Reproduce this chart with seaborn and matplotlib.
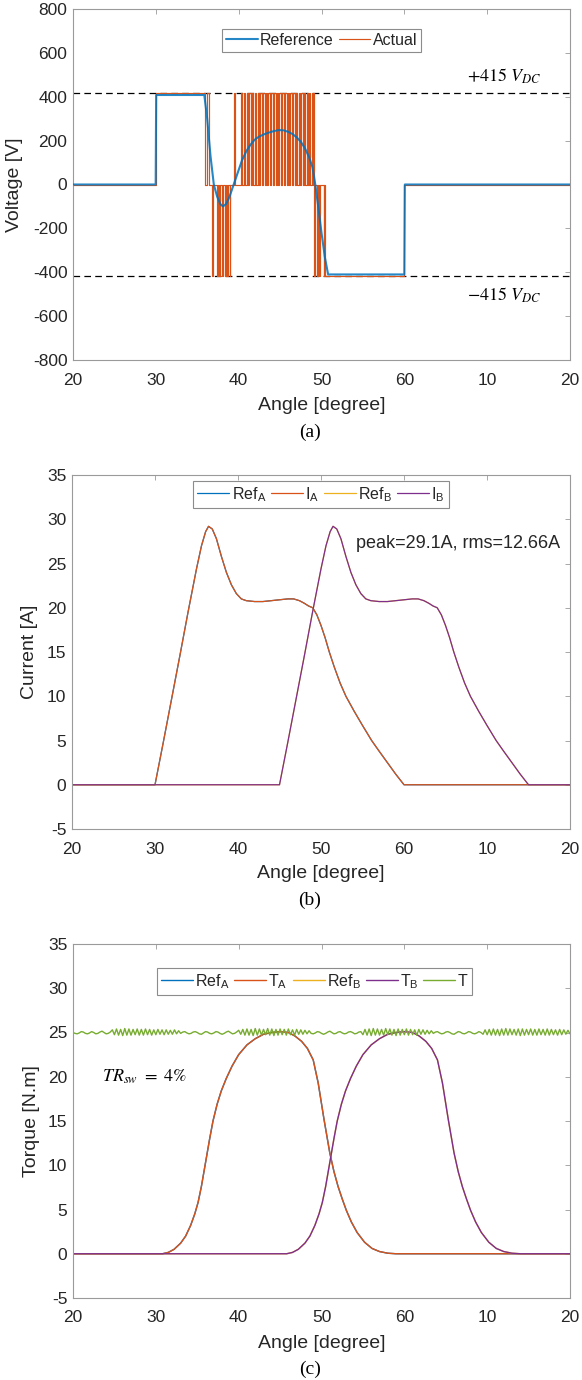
"""
Voltage, current and torque of the two phases against rotor angle.
Three stacked panels, MATLAB-like look.
"""

import numpy as np
import matplotlib
matplotlib.use('Agg')
import matplotlib.pyplot as plt
import seaborn as sns

sns.set_theme(style='white')
plt.rcParams['font.family'] = ['Liberation Sans', 'DejaVu Sans']
plt.rcParams['axes.unicode_minus'] = False

BLUE = '#0072BD'
ORANGE = '#D95319'
YELLOW = '#EDB120'
PURPLE = '#7E2F8E'
GREEN = '#77AC30'
TXT = '#262626'
BOX = '#9a9a9a'

angle_ticks = [20, 30, 40, 50, 60, 70, 80]
angle_tick_labels = ['20', '30', '40', '50', '60', '10', '20']

# ---- (a) voltage ----
vdc = 415
v_ref_angle = [20, 29.98, 30.04, 35.85, 36.2, 36.6, 37.0, 37.4, 37.8, 38.1,
               38.5, 38.9, 39.4, 39.9, 40.4, 40.9, 41.4, 41.9, 42.4, 43.0,
               43.6, 44.2, 44.8, 45.4, 46.0, 46.5, 47.0, 47.5, 48.0, 48.5,
               48.9, 49.25, 49.6, 50.0, 50.4, 50.8, 60.0, 60.06, 80]
v_ref = [0, 0, 408, 408, 300, 130, 0, -55, -90, -100,
         -88, -55, 0, 55, 110, 150, 180, 203, 217, 228,
         236, 243, 248, 247, 240, 230, 215, 195, 165, 125,
         80, 0, -100, -220, -330, -410, -410, 0, 0]

# switching instants of the actual phase voltage (degrees)
pos_on = [30.00, 36.15, 39.45, 40.30, 40.63, 40.96, 41.29, 41.62, 41.95, 42.28,
          42.61, 42.94, 43.27, 43.60, 43.93, 44.26, 44.59, 44.92, 45.25, 45.58,
          45.91, 46.24, 46.57, 46.90, 47.23, 47.56, 47.89, 48.22, 48.55, 48.88,
          49.00]
pos_off = [35.95, 36.45, 39.52, 40.38, 40.74, 41.08, 41.43, 41.77, 42.11, 42.45,
           42.79, 43.12, 43.46, 43.79, 44.12, 44.46, 44.79, 45.12, 45.45, 45.78,
           46.10, 46.43, 46.75, 47.08, 47.40, 47.71, 48.03, 48.34, 48.65, 48.95,
           49.06]
neg_on = [36.78, 37.38, 37.66, 37.98, 38.30, 38.62, 38.92, 49.15, 49.45, 49.72, 50.25, 50.45]
neg_off = [36.85, 37.52, 37.80, 38.12, 38.42, 38.72, 39.00, 49.22, 49.52, 49.80, 50.32, 60.00]

# ---- (b) current ----
ia_angle = [20, 30.0, 31.0, 32.0, 33.0, 34.0, 35.0, 35.6, 36.1, 36.45,
            36.9, 37.4, 38.0, 38.6, 39.2, 39.8, 40.4, 41.0, 42.0, 43.0,
            44.0, 45.0, 46.0, 46.7, 47.4, 48.0, 48.5, 49.0, 49.5, 50.0,
            50.5, 51.0, 51.6, 52.3, 53.0, 54.0, 55.0, 56.1, 57.0, 58.0,
            59.0, 60.0, 80]
ia = [0, 0, 4.8, 9.7, 14.6, 19.6, 24.4, 27.0, 28.6, 29.2,
      28.9, 27.8, 25.8, 24.0, 22.6, 21.6, 21.0, 20.8, 20.7, 20.7,
      20.8, 20.9, 21.0, 21.0, 20.8, 20.5, 20.2, 20.0, 19.2, 18.0,
      16.6, 15.0, 13.3, 11.5, 10.0, 8.3, 6.7, 5.0, 3.8, 2.5,
      1.2, 0, 0]
ib_angle = [20, 45.0, 46.0, 47.0, 48.0, 49.0, 50.0, 50.6, 51.1, 51.45,
            51.9, 52.4, 53.0, 53.6, 54.2, 54.8, 55.4, 56.0, 57.0, 58.0,
            59.0, 60.0, 61.0, 61.7, 62.4, 63.0, 63.5, 64.0, 64.5, 65.0,
            65.5, 66.0, 66.6, 67.3, 68.0, 69.0, 70.0, 71.1, 72.0, 73.0,
            74.0, 75.0, 80]
ib = [0, 0, 4.8, 9.7, 14.6, 19.6, 24.4, 27.0, 28.6, 29.2,
      28.9, 27.8, 25.8, 24.0, 22.6, 21.6, 21.0, 20.8, 20.7, 20.7,
      20.8, 20.9, 21.0, 21.0, 20.8, 20.5, 20.2, 20.0, 19.2, 18.0,
      16.6, 15.0, 13.3, 11.5, 10.0, 8.3, 6.7, 5.0, 3.8, 2.5,
      1.2, 0, 0]

# ---- (c) torque ----
ta_angle = [20, 30.8, 31.5, 32.2, 33.0, 33.6, 34.2, 34.7, 35.1, 35.5,
            36.0, 36.5, 36.9, 37.4, 37.9, 38.5, 39.2, 40.0, 41.0, 42.0,
            43.0, 44.0, 45.0, 46.0, 46.8, 47.6, 48.3, 49.0, 49.6, 50.3,
            51.0, 51.5, 52.0, 52.5, 53.0, 53.6, 54.3, 55.2, 56.1, 57.0,
            58.0, 59.0, 80]
ta = [0, 0, 0.15, 0.5, 1.2, 2.0, 3.2, 4.5, 5.8, 7.6,
      10.3, 13.0, 15.0, 16.9, 18.4, 19.8, 21.2, 22.5, 23.6, 24.3,
      24.8, 25.0, 25.1, 25.0, 24.6, 24.0, 23.2, 21.9, 19.3, 15.2,
      11.4, 9.3, 7.6, 6.2, 4.9, 3.6, 2.4, 1.3, 0.6, 0.25,
      0.06, 0, 0]
tb_angle = [20, 45.8, 46.5, 47.2, 48.0, 48.6, 49.2, 49.7, 50.1, 50.5,
            51.0, 51.5, 51.9, 52.4, 52.9, 53.5, 54.2, 55.0, 56.0, 57.0,
            58.0, 59.0, 60.0, 61.0, 61.8, 62.6, 63.3, 64.0, 64.6, 65.3,
            66.0, 66.5, 67.0, 67.5, 68.0, 68.6, 69.3, 70.2, 71.1, 72.0,
            73.0, 74.0, 80]
tb = [0, 0, 0.15, 0.5, 1.2, 2.0, 3.2, 4.5, 5.8, 7.6,
      10.3, 13.0, 15.0, 16.9, 18.4, 19.8, 21.2, 22.5, 23.6, 24.3,
      24.8, 25.0, 25.1, 25.0, 24.6, 24.0, 23.2, 21.9, 19.3, 15.2,
      11.4, 9.3, 7.6, 6.2, 4.9, 3.6, 2.4, 1.3, 0.6, 0.25,
      0.06, 0, 0]

# total torque, sampled every 0.25 deg from 20 to 80
t_total = (
    [25.0, 24.9, 24.85, 24.95, 25.1, 25.05, 24.9, 24.85, 24.95, 25.1,
     25.0, 24.85, 24.9, 25.05, 25.15, 25.0, 24.85, 24.9, 25.05]
    + [25.3, 24.75, 25.4, 24.7, 25.35, 24.65, 25.45, 24.7, 25.4, 24.7,
       25.35, 24.75, 25.4, 24.7, 25.35, 24.7, 25.4, 24.75, 25.35, 24.7,
       25.3, 24.75, 25.35, 24.8, 25.3, 24.75, 25.3, 24.8, 25.25, 24.8,
       25.3, 24.85, 25.2, 24.9]
    + [25.05, 25.1, 24.95, 24.85, 24.9, 25.05, 25.1, 25.0, 24.85, 24.8,
       24.95, 25.1, 25.05, 24.9, 24.85, 24.95, 25.1, 25.05, 24.9, 24.8,
       24.9, 25.05, 25.15, 25.0, 24.85, 24.9, 25.05]
    + [25.25, 24.8, 25.35, 24.7, 25.4, 24.7, 25.35, 24.65, 25.45, 24.7,
       25.4, 24.7, 25.35, 24.75, 25.45, 24.7, 25.4, 24.65, 25.35, 24.7,
       25.4, 24.75, 25.35, 24.7, 25.4, 24.75, 25.3, 24.7, 25.35, 24.8,
       25.3, 24.8, 25.25, 24.85, 25.2]
    + [24.9, 24.85, 24.95, 25.1, 25.05, 24.9, 24.8, 24.9, 25.05, 25.15,
       25.0, 24.85, 24.9, 25.05, 25.1, 24.95, 24.85, 24.9, 25.05, 25.1,
       25.0, 24.85, 24.9, 25.05, 25.1]
    + [24.75, 25.35, 24.7, 25.4, 24.65, 25.45, 24.7, 25.4, 24.7, 25.35,
       24.7, 25.45, 24.75, 25.4, 24.7, 25.35, 24.65, 25.4, 24.7, 25.35,
       24.75, 25.4, 24.7, 25.35, 24.75, 25.3, 24.7, 25.35, 24.8, 25.3,
       24.8, 25.25, 24.85, 25.2, 24.9]
    + [25.05, 25.1, 24.95, 24.85, 24.9, 25.05, 25.1, 25.0, 24.85, 24.8,
       24.95, 25.1, 25.05, 24.9, 24.85, 24.95, 25.1, 25.05, 24.9, 24.85,
       24.95, 25.1, 25.0]
    + [24.8, 25.3, 24.75, 25.35, 24.7, 25.4, 24.7, 25.35, 24.65, 25.4,
       24.7, 25.45, 24.7, 25.4, 24.75, 25.35, 24.7, 25.4, 24.65, 25.4,
       24.7, 25.35, 24.75, 25.4, 24.7, 25.35, 24.7, 25.4, 24.75, 25.35,
       24.7, 25.4, 24.7, 25.35, 24.75, 25.3, 24.7, 25.35, 24.75, 25.3,
       24.8, 25.25, 24.85]
)
t_angle = np.linspace(20, 80, len(t_total))


def pwm_trace(on_p, off_p, on_n, off_n, level):
    pulses = [(a, b, level) for a, b in zip(on_p, off_p)]
    pulses += [(a, b, -level) for a, b in zip(on_n, off_n)]
    pulses.sort()
    xs, ys = [20.0], [0.0]
    for a, b, lv in pulses:
        xs += [a, a, b, b]
        ys += [0, lv, lv, 0]
    xs.append(80.0)
    ys.append(0.0)
    return xs, ys


def draw(ax, x, y, color, lw, z=2):
    sns.lineplot(x=x, y=y, ax=ax, color=color, linewidth=lw,
                 estimator=None, sort=False, zorder=z)
    return ax.lines[-1]


def style_axes(ax, yticks, ylabel, ylabel_x, xlabel_y):
    ax.set_xlim(20, 80)
    ax.set_xticks(angle_ticks)
    ax.set_xticklabels(angle_tick_labels)
    ax.set_ylim(yticks[0], yticks[-1])
    ax.set_yticks(yticks)
    ax.tick_params(direction='in', top=True, right=True, length=3.5, width=0.6,
                   color=BOX, labelcolor=TXT, labelsize=12.5)
    ax.tick_params(axis='x', pad=9)
    ax.tick_params(axis='y', pad=4)
    for s in ax.spines.values():
        s.set_visible(True)
        s.set_color(BOX)
        s.set_linewidth(0.8)
    ax.set_xlabel('Angle [degree]', fontsize=14, color=TXT)
    ax.set_ylabel(ylabel, fontsize=14, color=TXT)
    ax.xaxis.set_label_coords(0.5, xlabel_y)
    ax.xaxis.label.set_va('center')
    ax.yaxis.set_label_coords(ylabel_x, 0.5)
    ax.yaxis.label.set_va('center')
    ax.grid(False)


def add_legend(ax, handles, labels, anchor):
    leg = ax.legend(handles, labels, loc='upper center', bbox_to_anchor=anchor,
                    ncol=len(labels), fontsize=11.5, frameon=True, fancybox=False,
                    edgecolor='#8c8c8c', facecolor='white', framealpha=1,
                    handlelength=2.0, handletextpad=0.15, columnspacing=0.3,
                    borderpad=0.25, borderaxespad=0)
    leg.get_frame().set_linewidth(0.8)
    for t in leg.get_texts():
        t.set_color(TXT)


fig = plt.figure(figsize=(5.82, 13.8), dpi=100)
ax_v = fig.add_axes([73 / 582, 1 - 360 / 1380, 497 / 582, 351 / 1380])
ax_i = fig.add_axes([72 / 582, 1 - 829 / 1380, 498 / 582, 354 / 1380])
ax_t = fig.add_axes([73 / 582, 1 - 1298 / 1380, 497 / 582, 354 / 1380])

# (a)
act_x, act_y = pwm_trace(pos_on, pos_off, neg_on, neg_off, vdc)
h_act = draw(ax_v, act_x, act_y, ORANGE, 0.85, z=2)
h_ref = draw(ax_v, v_ref_angle, v_ref, BLUE, 1.5, z=3)
h_ref.set_alpha(0.85)
for lv in (vdc, -vdc):
    ax_v.axhline(lv, color='black', lw=0.9, ls=(0, (5.3, 3.4)), zorder=1)
ax_v.text(72, 492, r'$+415\ V_{DC}$', math_fontfamily='stix', fontsize=13,
          ha='center', va='center', color='black')
ax_v.text(72, -506, r'$-415\ V_{DC}$', math_fontfamily='stix', fontsize=13,
          ha='center', va='center', color='black')
style_axes(ax_v, list(range(-800, 801, 200)), 'Voltage [V]', -0.117, -45 / 351)
add_legend(ax_v, [h_ref, h_act], ['Reference', 'Actual'], (0.5, 0.943))

# (b)
h1 = draw(ax_i, ia_angle, ia, BLUE, 0.9)
h2 = draw(ax_i, ia_angle, ia, ORANGE, 0.9)
h3 = draw(ax_i, ib_angle, ib, YELLOW, 0.9)
h4 = draw(ax_i, ib_angle, ib, PURPLE, 0.9)
ax_i.text(54.2, 27.3, 'peak=29.1A, rms=12.66A', fontsize=13, ha='left',
          va='center', color=TXT)
style_axes(ax_i, list(range(-5, 36, 5)), 'Current [A]', -0.086, -44 / 354)
add_legend(ax_i, [h1, h2, h3, h4],
           [r'Ref$_{\mathregular{A}}$', r'I$_{\mathregular{A}}$',
            r'Ref$_{\mathregular{B}}$', r'I$_{\mathregular{B}}$'], (0.5, 0.983))

# (c)
g1 = draw(ax_t, ta_angle, ta, BLUE, 1.0)
g2 = draw(ax_t, ta_angle, ta, ORANGE, 1.0)
g3 = draw(ax_t, tb_angle, tb, YELLOW, 1.0)
g4 = draw(ax_t, tb_angle, tb, PURPLE, 1.0)
g5 = draw(ax_t, t_angle, t_total, GREEN, 1.0)
ax_t.text(23.5, 20, r'$TR_{sw}\ =\ 4\%$', math_fontfamily='stix', fontsize=13,
          ha='left', va='center', color='black')
style_axes(ax_t, list(range(-5, 36, 5)), 'Torque [N.m]', -0.0825, -45 / 354)
add_legend(ax_t, [g1, g2, g3, g4, g5],
           [r'Ref$_{\mathregular{A}}$', r'T$_{\mathregular{A}}$',
            r'Ref$_{\mathregular{B}}$', r'T$_{\mathregular{B}}$', 'T'], (0.485, 0.932))

for letter, ypx in (('(a)', 432), ('(b)', 900), ('(c)', 1369)):
    fig.text(310 / 582, 1 - ypx / 1380, letter, family=['Liberation Serif', 'DejaVu Serif'],
             fontsize=14, ha='center', va='center', color='black')

fig.savefig('out.png', dpi=100)
